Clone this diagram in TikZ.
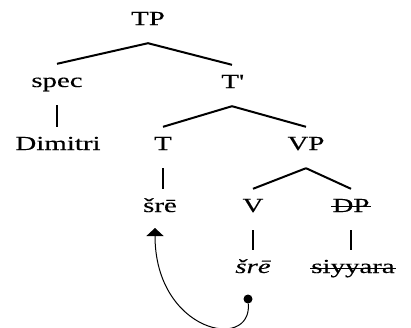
\documentclass[tikz,border=0pt]{standalone}
\usepackage{fontspec}
\setmainfont{Liberation Serif}[FakeStretch=1.45,FakeBold=0.3]
\usetikzlibrary{arrows.meta}
\begin{document}
\begin{tikzpicture}[x=1bp,y=-1bp,
  lbl/.style={anchor=base, inner xsep=1bp, inner ysep=0pt, text height=23bp, text depth=18bp, font=\fontsize{20}{24}\selectfont},
  branch/.style={line width=2bp},
  strike/.style={line width=1.3bp},
  move/.style={line width=1bp, -{Triangle[width=17bp,length=8bp]}},
  trace/.style={circle, fill=black, inner sep=0pt, minimum size=9bp}]
\useasboundingbox (0,0) rectangle (411,328);
\node[lbl] (tp) at (148,25) {TP};
\node[lbl] (spec) at (57,87) {spec};
\node[lbl] (tbar) at (232,88) {T\textquotesingle};
\node[lbl] (dim) at (58,150) {Dimitri};
\node[lbl] (t) at (163,150) {T};
\node[lbl] (vp) at (306,150) {VP};
\node[lbl] (sre1) at (160,212) {šrē};
\node[lbl] (v) at (253,212) {V};
\node[lbl] (dp) at (351,212) {DP};
\node[lbl] (sre2) at (253,273) {\itshape šrē};
\node[lbl] (siy) at (353,273) {siyyara};
\draw[branch] (tp.south) -- (spec.north);
\draw[branch] (tp.south) -- (tbar.north);
\draw[branch] (spec.south) -- (spec.south |- dim.north);
\draw[branch] (tbar.south) -- (t.north);
\draw[branch] (tbar.south) -- (vp.north);
\draw[branch] (t.south) -- (t.south |- sre1.north);
\draw[branch] (vp.south) -- (v.north);
\draw[branch] (vp.south) -- (dp.north);
\draw[branch] (v.south) -- (sre2.north);
\draw[branch] (dp.south) -- (dp.south |- siy.north);
\draw[strike] ([yshift=5.5bp]dp.base west) -- ([yshift=5.5bp]dp.base east);
\draw[strike] ([yshift=4.7bp]siy.base west) -- ([yshift=4.7bp]siy.base east);
\node[trace] (dot) at (248,299) {};
\coordinate (land) at (155,228);
\draw[move] (dot) .. controls (252,352) and (155,332) .. (land);
\end{tikzpicture}
\end{document}
